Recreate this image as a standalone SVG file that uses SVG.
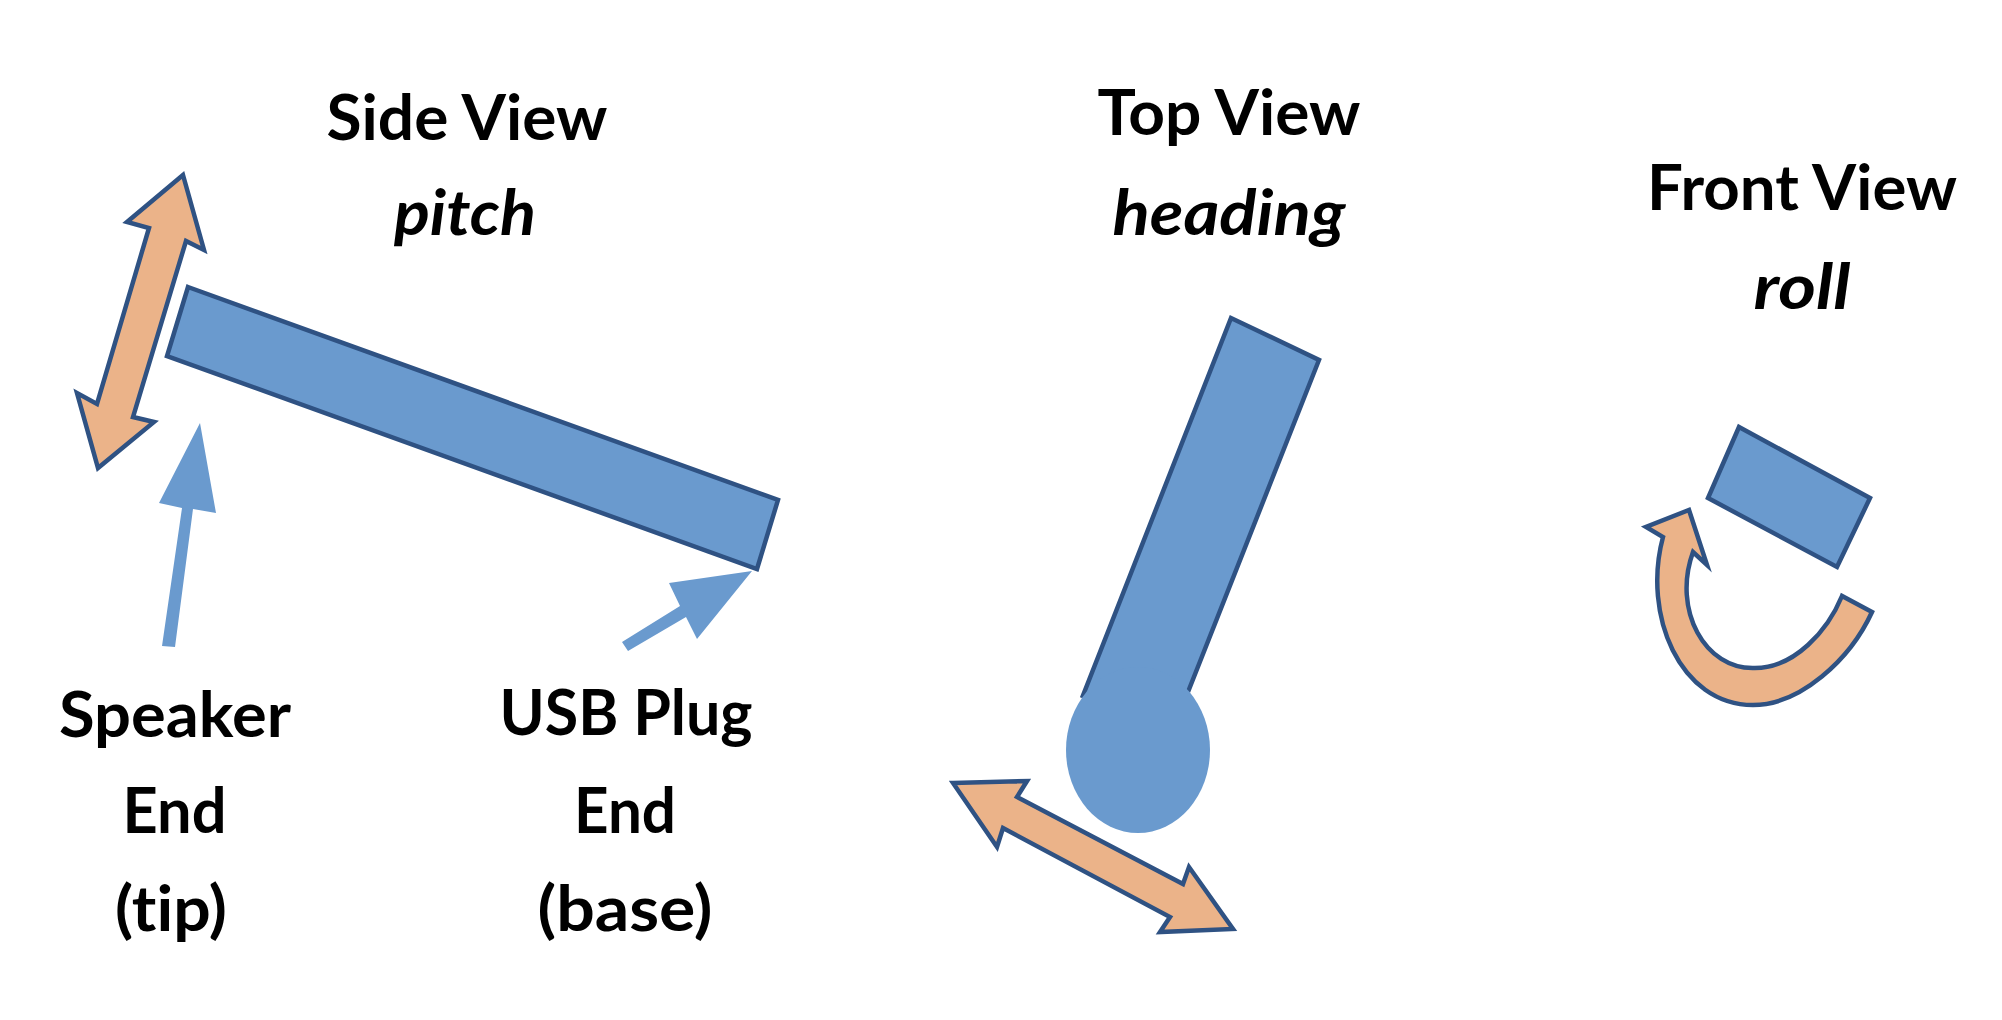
<svg xmlns="http://www.w3.org/2000/svg" width="2002" height="1020" viewBox="0 0 2002 1020">
<style>
.lbl{font-family:Lato,"Open Sans","Liberation Sans",sans-serif;font-weight:bold;font-size:63px;fill:#000;text-anchor:middle;font-variant-ligatures:none;font-feature-settings:"liga" 0,"clig" 0}
.it{font-style:italic}
.body{fill:#6A9ACE;stroke:#2F5283;stroke-width:4.5;stroke-linejoin:miter}
.rot{fill:#EBB389;stroke:#2F5283;stroke-width:4.5;stroke-linejoin:miter}
.ptr{fill:#6A9ACE;stroke:none}
</style>
<rect width="2002" height="1020" fill="#fff"/>
<g id="side-view">
  <polygon class="body" points="188,287 778,500 757,569 167,356"/>
  <polygon class="rot" points="183,175 204,250 186,241 133,417 154,422 98,468 77,393 97,404 149,228 127,222"/>
  <text class="lbl" x="467" y="140" textLength="281" lengthAdjust="spacingAndGlyphs">Side View</text>
  <text class="lbl it" x="465" y="235" textLength="142" lengthAdjust="spacingAndGlyphs">pitch</text>
</g>
<g id="speaker-label">
  <text class="lbl" x="175" y="737" textLength="232" lengthAdjust="spacingAndGlyphs">Speaker</text>
  <text class="lbl" x="174.5" y="833" textLength="104" lengthAdjust="spacingAndGlyphs">End</text>
  <text class="lbl" x="171" y="931" textLength="112" lengthAdjust="spacingAndGlyphs">(tip)</text>
</g>
<g id="usb-label">
  <text class="lbl" x="626" y="735" textLength="253" lengthAdjust="spacingAndGlyphs">USB Plug</text>
  <text class="lbl" x="625" y="833" textLength="102" lengthAdjust="spacingAndGlyphs">End</text>
  <text class="lbl" x="625" y="931" textLength="175" lengthAdjust="spacingAndGlyphs">(base)</text>
</g>
<g id="top-view">
  <polygon points="1231,318 1319,360 1156,775 1070,730" fill="#6A9ACE"/>
  <polyline points="1082,698 1231,318 1319,360 1188,692" fill="none" stroke="#2F5283" stroke-width="4.5" stroke-linejoin="miter"/>
  <ellipse cx="1138" cy="750" rx="72" ry="83" fill="#6A9ACE"/>
  <polygon class="rot" points="953,783 1027,781 1017,797 1183,884 1189,867 1233,929 1160,932 1170,917 1003,828 997,847"/>
  <text class="lbl" x="1229" y="135" textLength="263" lengthAdjust="spacingAndGlyphs">Top View</text>
  <text class="lbl it" x="1229" y="235" textLength="233" lengthAdjust="spacingAndGlyphs">heading</text>
</g>
<g id="front-view">
  <polygon class="body" points="1739,427 1870,498 1837,567 1708,498"/>
  <path class="rot" d="M1689,510 L1707,565 L1693,552 C1672,610 1705,670 1755,668 C1795,668 1828,630 1842,596 L1872,612 C1850,660 1800,705 1753,705 C1680,705 1642,615 1663,537 L1646,527 Z"/>
  <text class="lbl" x="1802" y="210" textLength="310" lengthAdjust="spacingAndGlyphs">Front View</text>
  <text class="lbl it" x="1802" y="309" textLength="97" lengthAdjust="spacingAndGlyphs">roll</text>
</g>
<g id="connectors">
  <polygon class="ptr" points="200,423 216,513 193,509 175,647 162,646 182,508 159,503"/>
  <polygon class="ptr" points="752,571 697,639 686,617 628,651 622,642 680,606 669,583"/>
</g>
</svg>
